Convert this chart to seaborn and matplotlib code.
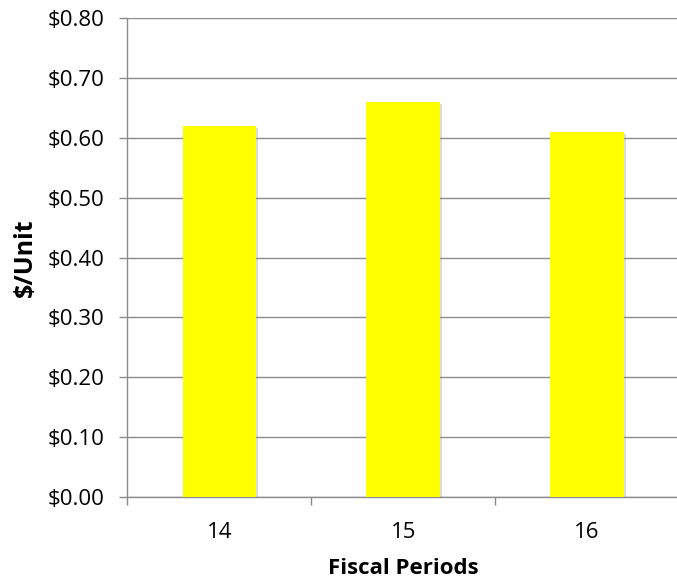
import matplotlib
matplotlib.use("Agg")
import matplotlib.pyplot as plt
import matplotlib.patheffects as pe
from matplotlib.ticker import FuncFormatter, MultipleLocator
import seaborn as sns
import pandas as pd

periods = ["14", "15", "16"]
values = [0.62, 0.66, 0.61]

sns.set_theme(style="white")
plt.rcParams['font.family'] = ['Open Sans', 'DejaVu Sans']

df = pd.DataFrame({"period": periods, "value": values})

fig = plt.figure(figsize=(6.77, 5.87), dpi=100)
# plot area runs slightly past the right edge of the figure, as in the reference
ax = fig.add_axes([127.5 / 677, 1 - 497 / 587, (679 - 127.5) / 677, (497 - 18) / 587])

sns.barplot(data=df, x="period", y="value", color="#ffff00", saturation=1,
            width=0.40, ax=ax, zorder=3)
for p in ax.patches:
    p.set_edgecolor("none")
    p.set_path_effects([pe.SimplePatchShadow(offset=(1.5, -1.5), shadow_rgbFace="#999999", alpha=0.35), pe.Normal()])

ax.set_ylim(0, 0.8)
ax.set_xlim(-0.5, 2.5)
ax.yaxis.set_major_locator(MultipleLocator(0.1))
ax.yaxis.set_major_formatter(FuncFormatter(lambda v, p: "\\$%.2f" % v))
ax.grid(axis="y", color="#8c8c8c", linewidth=1.0, zorder=0)
ax.set_axisbelow(True)

for s in ["top", "right"]:
    ax.spines[s].set_visible(False)
for s in ["left", "bottom"]:
    ax.spines[s].set_color("#8c8c8c")
    ax.spines[s].set_linewidth(1.0)

ax.set_xticks([-0.5, 0.5, 1.5], minor=False)
ax.set_xticklabels([])
ax.set_xticks([0, 1, 2], minor=True)
ax.set_xticklabels(periods, minor=True)
ax.tick_params(axis="x", which="major", length=5.8, width=1, color="#8c8c8c", direction="out", bottom=True)
ax.tick_params(axis="x", which="minor", length=0, pad=18, labelsize=16, labelcolor="black")
ax.tick_params(axis="y", length=5.8, width=1, color="#8c8c8c", direction="out", left=True,
               labelsize=16, labelcolor="black", pad=11)

ax.set_xlabel("Fiscal Periods", fontsize=16, fontweight="bold", color="black", labelpad=11)
ax.set_ylabel("\\$/Unit", fontsize=18, fontweight="bold", color="black", labelpad=7)

fig.savefig("out.png", dpi=100)
